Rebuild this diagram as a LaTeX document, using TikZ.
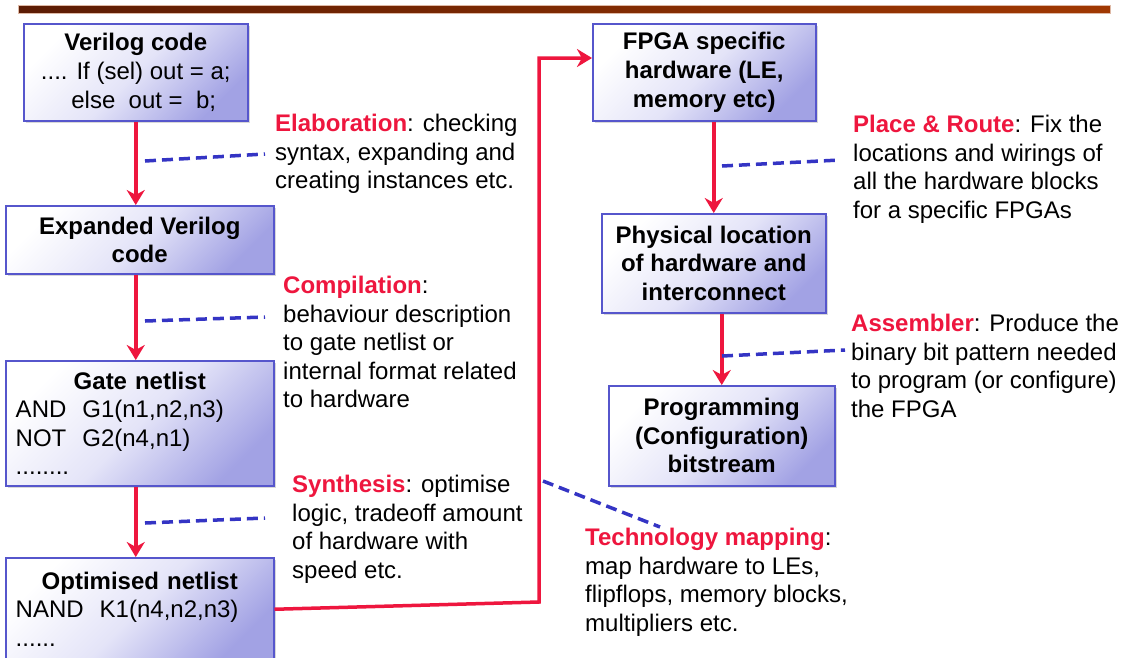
\documentclass[tikz,border=0pt]{standalone}
\usepackage{fontspec}
\setmainfont{Liberation Sans}
\usetikzlibrary{arrows.meta,shadows}
\definecolor{flowred}{RGB}{238,22,62}
\definecolor{dashblue}{RGB}{52,52,196}
\definecolor{boxedge}{RGB}{86,86,204}
\definecolor{boxmid}{RGB}{228,228,248}
\definecolor{boxshade}{RGB}{162,162,228}
\definecolor{barleft}{RGB}{92,28,4}
\definecolor{barright}{RGB}{160,56,2}
\newcommand{\bodysize}{\fontsize{24pt}{28.6pt}\selectfont}
\newcommand{\stepname}[1]{\textcolor{flowred}{\textbf{#1}}}
\tikzset{
  stage/.style={draw=boxedge, line width=1.5pt, top color=white, bottom color=boxshade,
    middle color=boxmid, shading angle=45,
    drop shadow={shadow xshift=2.5pt, shadow yshift=-2.5pt, opacity=0.3},
    anchor=north west, align=center, inner sep=6pt, font=\bodysize\bfseries},
  listing/.style={stage, font=\bodysize, align=left, inner xsep=10pt, text width=248pt},
  note/.style={anchor=north west, align=left, inner sep=0pt, font=\bodysize},
  flow/.style={draw=flowred, line width=3.5pt, -{Stealth[length=15pt,width=18pt]}},
  hint/.style={draw=dashblue, line width=3.5pt, dash pattern=on 11pt off 6pt}
}
\begin{document}
\begin{tikzpicture}[x=1pt,y=-1pt]
\useasboundingbox[fill=white] (0,0) rectangle (1128,657);
\shade[left color=barleft, right color=barright, draw=barright!35] (18,5) rectangle (1110,13);

% left column
\node[stage, font=\bodysize, minimum width=224pt, minimum height=97pt] (verilog) at (23,23)
  {\textbf{Verilog code}\\.... If (sel) out = a;\hspace*{12pt}\\\hspace*{16pt}else~~out =~~b;};
\node[stage, minimum width=268pt, minimum height=68pt] (expanded) at (5,205) {Expanded Verilog\\code};
\node[listing, minimum height=125pt] (gate) at (5,360)
  {\hfill\textbf{Gate netlist}\hfill\null\\AND~~G1(n1,n2,n3)\\NOT~~G2(n4,n1)\\........};
\node[listing, minimum height=103pt] (optim) at (5,557)
  {\hfill\textbf{Optimised netlist}\hfill\null\\NAND~~K1(n4,n2,n3)\\......};

% right column
\node[stage, minimum width=223pt, minimum height=97pt] (fpga) at (592,23) {FPGA specific\\hardware (LE,\\memory etc)};
\node[stage, minimum width=224pt, minimum height=99pt] (phys) at (601,213) {Physical location\\of hardware and\\interconnect};
\node[stage, minimum width=226pt, minimum height=100pt] (prog) at (608,385) {Programming\\(Configuration)\\bitstream};

% step descriptions
\node[note] (elab) at (275,114) {\stepname{Elaboration}: checking\\syntax, expanding and\\creating instances etc.};
\node[note] (comp) at (283,276) {\stepname{Compilation}:\\behaviour description\\to gate netlist or\\internal format related\\to hardware};
\node[note] (synth) at (292,475) {\stepname{Synthesis}: optimise\\logic, tradeoff amount\\of hardware with\\speed etc.};
\node[note] (techmap) at (585,528) {\stepname{Technology mapping}:\\map hardware to LEs,\\flipflops, memory blocks,\\multipliers etc.};
\node[note] (route) at (853,115) {\stepname{Place \& Route}: Fix the\\locations and wirings of\\all the hardware blocks\\for a specific FPGAs};
\node[note] (asm) at (851,314) {\stepname{Assembler}: Produce the\\binary bit pattern needed\\to program (or configure)\\the FPGA};

\draw[flow] (verilog.south) -- (verilog.south |- expanded.north);
\draw[flow] (verilog.south |- expanded.south) -- (verilog.south |- gate.north);
\draw[flow] (verilog.south |- gate.south) -- (verilog.south |- optim.north);
\coordinate (bend) at (539,602);
\coordinate (rise) at (539,58);
\draw[flow] (optim.east) -- (bend) -- (rise) -- (rise -| fpga.west);
\draw[flow] (phys.north |- fpga.south) -- (phys.north);
\draw[flow] (prog.north |- phys.south) -- (prog.north);

\coordinate (elab-a) at (145,161);  \coordinate (elab-b) at (265,154);
\coordinate (comp-a) at (145,321);  \coordinate (comp-b) at (265,317);
\coordinate (synth-a) at (145,523); \coordinate (synth-b) at (265,518);
\coordinate (tech-a) at (543,481);  \coordinate (tech-b) at (660,527);
\coordinate (route-a) at (722,166); \coordinate (route-b) at (840,160);
\coordinate (asm-a) at (722,356);   \coordinate (asm-b) at (845,350);
\draw[hint] (elab-a) -- (elab-b);
\draw[hint] (comp-a) -- (comp-b);
\draw[hint] (synth-a) -- (synth-b);
\draw[hint] (tech-a) -- (tech-b);
\draw[hint] (route-a) -- (route-b);
\draw[hint] (asm-a) -- (asm-b);
\end{tikzpicture}
\end{document}
